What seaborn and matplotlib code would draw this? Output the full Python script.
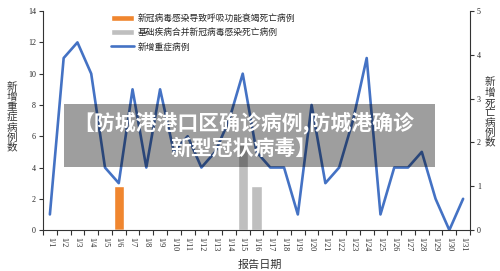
import pandas as pd
import matplotlib
matplotlib.use('Agg')
import matplotlib.pyplot as plt
import seaborn as sns
from matplotlib.patches import Rectangle, Patch
from matplotlib.lines import Line2D

# Data
dates = ['1/1', '1/2', '1/3', '1/4', '1/5', '1/6', '1/7', '1/8', '1/9', '1/10',
         '1/11', '1/12', '1/13', '1/14', '1/15', '1/16', '1/17', '1/18', '1/19', '1/20',
         '1/21', '1/22', '1/23', '1/24', '1/25', '1/26', '1/27', '1/28', '1/29', '1/30', '1/31']
severe_cases = [1, 11, 12, 10, 4, 3, 9, 4, 9, 5, 6, 4, 5, 7, 10, 5,
                4, 4, 1, 8, 3, 4, 7, 11, 1, 4, 4, 5, 2, 0, 2]
resp_deaths = [0, 0, 0, 0, 0, 1, 0, 0, 0, 0, 0, 0, 0, 0, 0, 0,
               0, 0, 0, 0, 0, 0, 0, 0, 0, 0, 0, 0, 0, 0, 0]
comorb_deaths = [0, 0, 0, 0, 0, 0, 0, 0, 0, 0, 0, 0, 0, 0, 2, 1,
                 0, 0, 0, 0, 0, 0, 0, 0, 0, 0, 0, 0, 0, 0, 0]
series_names = ['新冠病毒感染导致呼吸功能衰竭死亡病例', '基础疾病合并新冠病毒感染死亡病例', '新增重症病例']

df = pd.DataFrame({'date': dates, 'severe': severe_cases,
                   'resp': resp_deaths, 'comorb': comorb_deaths})

sns.set_style('ticks')
plt.rcParams['font.family'] = ['Noto Sans CJK SC', 'DejaVu Sans']

orange = '#F0862F'
gray = '#BFBFBF'
blue = '#4472C4'

fig = plt.figure(figsize=(5, 2.71), dpi=100)
ax = fig.add_axes([0.086, 0.151, 0.854, 0.808])
ax2 = ax.twinx()

# deaths as bars on the right axis
sns.barplot(data=df, x='date', y='resp', color=orange, saturation=1, width=0.75, ax=ax2)
sns.barplot(data=df, x='date', y='comorb', color=gray, saturation=1, width=0.75, ax=ax2)
# severe cases as a line on the left axis
sns.lineplot(data=df, x='date', y='severe', color=blue, lw=1.9, sort=False, ax=ax)

ax.set_zorder(ax2.get_zorder() + 1)
ax.patch.set_visible(False)

ax.set_xlim(-0.5, len(dates) - 0.5)
ax.set_ylim(0, 14)
ax2.set_ylim(0, 5)
ax.set_yticks(range(0, 15, 2))
ax2.set_yticks(range(0, 6))

ax.set_xticks(range(len(dates)))
ax.set_xticklabels(dates, rotation=-90, family='Liberation Serif', fontsize=5.8)
ax.set_xticks([i - 0.5 for i in range(len(dates) + 1)], minor=True)
ax.tick_params(axis='x', which='major', length=0, pad=5)
ax.tick_params(axis='x', which='minor', length=3.5, width=0.8, color='#333333')
ax.tick_params(axis='y', length=3, width=0.8, labelsize=5.8, pad=2, color='#333333')
ax2.tick_params(axis='y', length=3, width=0.8, labelsize=5.8, pad=2, color='#333333')
for lab in ax.get_yticklabels() + ax2.get_yticklabels():
    lab.set_family('Liberation Serif')

for s in ['top', 'right']:
    ax.spines[s].set_visible(False)
for s in ['top', 'left', 'bottom']:
    ax2.spines[s].set_visible(False)
for a in (ax, ax2):
    for s in a.spines.values():
        s.set_color('#333333')
        s.set_linewidth(0.8)

ax.set_ylabel('\n'.join('新增重症病例数'), rotation=0, fontsize=7.6, linespacing=1.0,
              va='center', ha='center', color='#333333')
ax.yaxis.set_label_coords(-0.073, 0.514)
ax2.set_ylabel('\n'.join('新增死亡病例数'), rotation=0, fontsize=7.6, linespacing=1.0,
               va='center', ha='center', color='#333333')
ax2.yaxis.set_label_coords(1.046, 0.537)
ax.set_xlabel('报告日期', fontsize=8, color='#333333')
ax.xaxis.set_label_coords(0.508, -0.137)

handles = [Patch(facecolor=orange), Patch(facecolor=gray), Line2D([], [], color=blue, lw=1.9)]
ax.legend(handles, series_names, loc='upper left', bbox_to_anchor=(0.155, 0.995),
          frameon=False, fontsize=6.3, handlelength=2.6, handleheight=0.7,
          labelspacing=0.6, handletextpad=0.4, borderaxespad=0, borderpad=0.2)

# semi-transparent title banner over the plot
fig.add_artist(Rectangle((0.128, 0.384), 0.742, 0.2325, transform=fig.transFigure,
                         facecolor='black', alpha=0.38, lw=0, zorder=10))
fig.text(0.487, 0.5, '【防城港港口区确诊病例,防城港确诊\n新型冠状病毒】', ha='center', va='center',
         color='white', fontsize=15, fontweight='bold', linespacing=1.15, zorder=11)

fig.savefig('out.png', dpi=100)
